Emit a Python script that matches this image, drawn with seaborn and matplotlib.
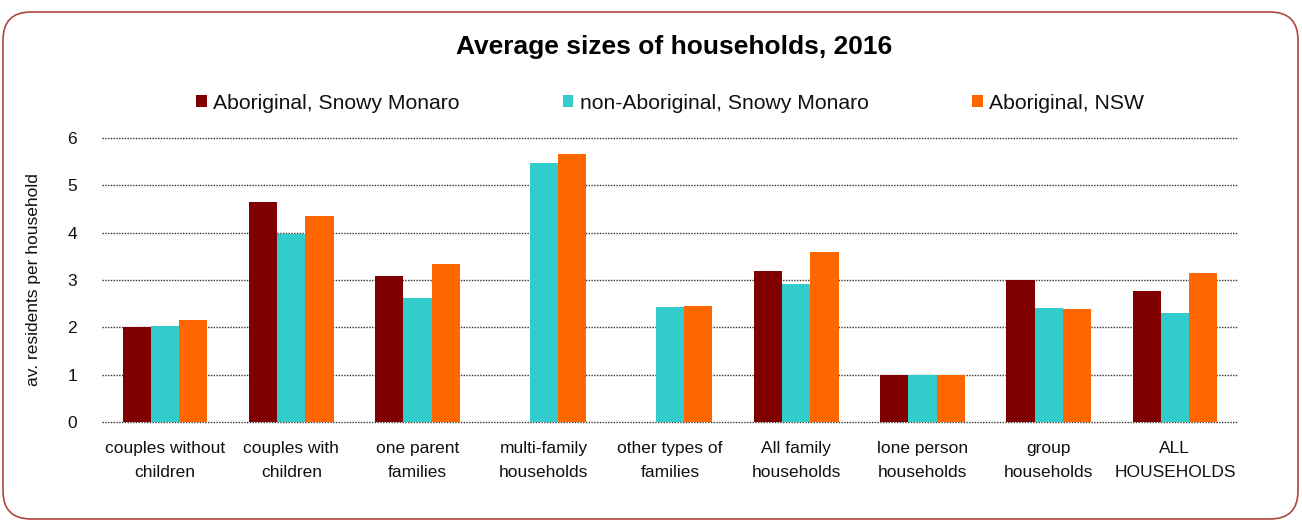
import pandas as pd
import numpy as np
import matplotlib
matplotlib.use("Agg")
import matplotlib.pyplot as plt
import matplotlib.patches as mpatches
import seaborn as sns

# data
categories = ["couples without\nchildren", "couples with\nchildren", "one parent\nfamilies",
              "multi-family\nhouseholds", "other types of\nfamilies", "All family\nhouseholds",
              "lone person\nhouseholds", "group\nhouseholds", "ALL\nHOUSEHOLDS"]
series = ["Aboriginal, Snowy Monaro", "non-Aboriginal, Snowy Monaro", "Aboriginal, NSW"]
aboriginal_sm = [2.00, 4.65, 3.09, np.nan, np.nan, 3.20, 1.00, 3.00, 2.77]
non_aboriginal_sm = [2.03, 3.98, 2.62, 5.48, 2.43, 2.92, 1.00, 2.41, 2.30]
aboriginal_nsw = [2.16, 4.35, 3.34, 5.67, 2.45, 3.59, 1.00, 2.39, 3.14]
colors = ["#800000", "#33CCCC", "#FF6600"]

df = pd.DataFrame({
    "category": categories * 3,
    "series": [series[0]] * 9 + [series[1]] * 9 + [series[2]] * 9,
    "value": aboriginal_sm + non_aboriginal_sm + aboriginal_nsw,
})

sns.set_style("white")
plt.rcParams["font.family"] = ["Liberation Sans", "DejaVu Sans"]
plt.rcParams["text.color"] = "#111111"
plt.rcParams["axes.labelcolor"] = "#111111"

fig = plt.figure(figsize=(13.02, 5.2), dpi=100)
ax = fig.add_axes([102 / 1302, 1 - 422 / 520, 1136 / 1302, 284 / 520])

sns.barplot(data=df, x="category", y="value", hue="series", order=categories,
            hue_order=series, palette=colors, width=0.67, saturation=1,
            ax=ax, linewidth=0)

ax.set_ylim(0, 6)
ax.set_xlim(-0.5, len(categories) - 0.5)
ax.set_yticks(range(0, 7))
ax.yaxis.grid(True, linestyle=(0, (1, 1)), color="#333333", linewidth=1)
for gl in ax.get_ygridlines():
    gl.set_clip_on(False)
ax.set_axisbelow(True)
for s in ax.spines.values():
    s.set_visible(False)
ax.tick_params(axis="both", length=0, labelsize=12.5, colors="#111111")
ax.tick_params(axis="y", pad=18)
ax.tick_params(axis="x", pad=14)
ax.set_xticks(range(len(categories)))
ax.set_xticklabels(categories, linespacing=1.75)
ax.set_xlabel("")
ax.set_ylabel("av. residents per household", fontsize=12.5)
ax.yaxis.set_label_coords(-0.0537, 0.5)

handles, labels = ax.get_legend_handles_labels()
ax.legend(handles, labels, ncol=3, loc="center", bbox_to_anchor=(0.5, 1.123),
          frameon=False, fontsize=15.2, handlelength=0.5, handleheight=0.5,
          handletextpad=0.3, columnspacing=4.9)

fig.text(674 / 1302, 1 - 47 / 520, "Average sizes of households, 2016",
         ha="center", va="center", fontsize=19, fontweight="bold", color="black")

# rounded border round the chart
border = mpatches.FancyBboxPatch((3, 1), 1295, 507, boxstyle="round,pad=0,rounding_size=28",
                                 transform=None, fill=False, edgecolor="#B04440", linewidth=1.2)
fig.patches.append(border)

fig.savefig("out.png", dpi=100)
